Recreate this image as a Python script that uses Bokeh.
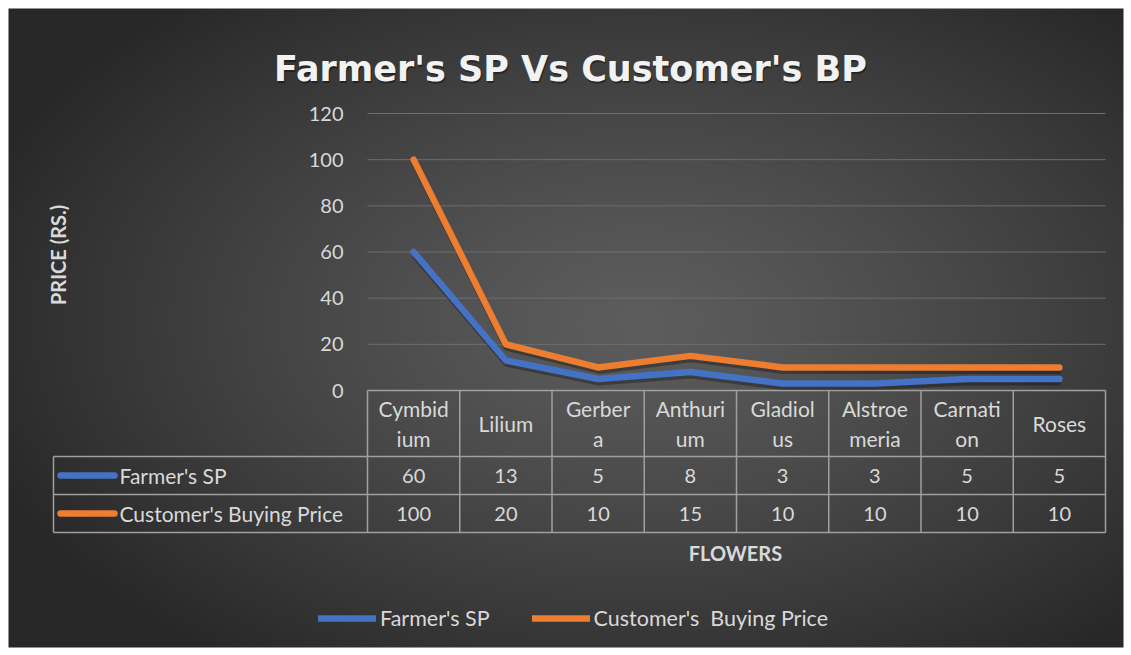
import numpy as np
from bokeh.plotting import figure
from bokeh.models import ColumnDataSource, Range1d, Legend, LegendItem
from bokeh.transform import dodge
from bokeh.core.properties import value
from bokeh.embed import file_html
from bokeh.resources import INLINE

# ---------------- data ----------------
flowers = ["Cymbidium", "Lilium", "Gerbera", "Anthurium", "Gladiolus",
           "Alstroemeria", "Carnation", "Roses"]
header_labels = ["Cymbid\nium", "Lilium", "Gerber\na", "Anthuri\num", "Gladiol\nus",
                 "Alstroe\nmeria", "Carnati\non", "Roses"]
farmer_sp = [60, 13, 5, 8, 3, 3, 5, 5]
customer_bp = [100, 20, 10, 15, 10, 10, 10, 10]
series_names = ["Farmer's SP", "Customer's  Buying Price"]
series_colors = ["#4472C4", "#ED7D31"]
y_ticks = [0, 20, 40, 60, 80, 100, 120]
title_text = "Farmer's SP Vs Customer's BP"
x_title = "FLOWERS"
y_title = "PRICE  (RS.)"

# ---------------- layout (page pixels) ----------------
W, H = 1131, 655
M = 8                      # white margin around chart area
PLOT_L, PLOT_R = 367, 1105
PLOT_T, PLOT_B = 113, 390
YMAX = 120
n = len(flowers)
cat_w = (PLOT_R - PLOT_L) / n
ppu = (PLOT_B - PLOT_T) / YMAX


def ux(px):
    return (px - PLOT_L) / cat_w


def vy(py):
    return (PLOT_B - py) / ppu


FONT = "Lato"
TXT = "#d9d9d9"
FS = "21px"
NFS = "20px"

p = figure(width=W, height=H,
           x_range=Range1d(ux(0), ux(W)),
           y_range=Range1d(vy(H), vy(0)),
           x_axis_type=None, y_axis_type=None, min_border=0,
           toolbar_location=None, output_backend="svg",
           outline_line_color=None,
           background_fill_color="white", border_fill_color="white")

# background radial gradient over the chart area
CW, CH = W - 2 * M, H - 2 * M
gh, gw = CH // 2, CW // 2
yy, xx = np.mgrid[0:gh, 0:gw]
pxx = M + (xx + 0.5) * CW / gw
pyy = M + CH - (yy + 0.5) * CH / gh
cx, cy = 640, 320
r = np.sqrt(((pxx - cx) / 700.0) ** 2 + ((pyy - cy) / 420.0) ** 2)
g = (93 - 53 * np.clip(r, 0, 1) ** 1.2).astype(np.uint8)
img = np.empty((gh, gw), dtype=np.uint32)
view = img.view(dtype=np.uint8).reshape((gh, gw, 4))
view[..., 0] = g
view[..., 1] = g
view[..., 2] = g
view[..., 3] = 255
p.image_rgba(image=[img], x=ux(M), y=vy(H - M),
             dw=ux(W - M) - ux(M), dh=vy(M) - vy(H - M))

# gridlines
grid_src = ColumnDataSource(dict(y=y_ticks[1:]))
p.segment(x0=0, x1=n, y0="y", y1="y", source=grid_src,
          line_color="#6e6e6e", line_width=1)

# y tick labels
p.text(x=ux(343), y=y_ticks, text=[str(t) for t in y_ticks],
       text_align="right", text_baseline="middle",
       text_font=value(FONT), text_font_size=NFS, text_color=TXT)

# data table grid
TBL = "#a0a0a0"
ROW_T, ROW1, ROW2, ROW_B = 390, 456, 494, 532
LEG_L = 53
vx = list(range(n + 1))
p.segment(x0=vx, x1=vx, y0=vy(ROW_T), y1=vy(ROW_B), line_color=TBL, line_width=1.5)
p.segment(x0=[ux(LEG_L)], x1=[ux(LEG_L)], y0=vy(ROW1), y1=vy(ROW_B),
          line_color=TBL, line_width=1.5)
p.segment(x0=[0], x1=[n], y0=vy(ROW_T), y1=vy(ROW_T), line_color=TBL, line_width=1.5)
hy = [vy(ROW1), vy(ROW2), vy(ROW_B)]
p.segment(x0=ux(LEG_L), x1=n, y0=hy, y1=hy, line_color=TBL, line_width=1.5)

xc = [i + 0.5 for i in range(n)]
p.text(x=xc, y=vy(423), text=header_labels, text_align="center",
       text_baseline="middle", text_line_height=1.19,
       text_font=value(FONT), text_font_size=FS, text_color=TXT)
row_y = [vy(475), vy(513)]
for vals, ry in zip([farmer_sp, customer_bp], row_y):
    p.text(x=xc, y=ry, text=[str(v) for v in vals], text_align="center",
           text_baseline="middle", text_font=value(FONT), text_font_size=NFS,
           text_color=TXT)

# table legend keys
p.segment(x0=ux(60), x1=ux(114), y0=row_y, y1=row_y, line_color=series_colors,
          line_width=6.5, line_cap="round")
p.text(x=ux(119), y=row_y, text=series_names, text_align="left",
       text_baseline="middle", text_font=value(FONT), text_font_size=FS,
       text_color=TXT)

# lines
renderers = []
for vals, col in zip([farmer_sp, customer_bp], series_colors):
    src = ColumnDataSource(dict(x=xc, y=vals))
    p.line(x=dodge("x", 0.012, range=p.x_range), y=dodge("y", -1.3, range=p.y_range),
           source=src, line_color="black", line_alpha=0.3, line_width=7,
           line_join="round")
    r_ = p.line(x="x", y="y", source=src, line_color=col, line_width=6.5,
                line_join="round", line_cap="round")
    renderers.append(r_)

# title with shadow
TF = "DejaVu Sans"
p.text(x=ux(571), y=vy(70), text=[title_text], text_align="center",
       text_baseline="alphabetic", text_font=value(TF),
       text_font_style="bold", text_font_size="35px", text_color="black",
       text_alpha=0.4)
p.text(x=ux(570), y=vy(68), text=[title_text], text_align="center",
       text_baseline="alphabetic", text_font=value(TF),
       text_font_style="bold", text_font_size="35px", text_color="#f2f2f2")

# axis titles
p.text(x=ux(57), y=vy(252), text=[y_title], angle=np.pi / 2, text_align="center",
       text_baseline="middle", text_font=value(FONT), text_font_style="bold",
       text_font_size="20px", text_color=TXT)
p.text(x=ux(735), y=vy(552), text=[x_title], text_align="center",
       text_baseline="middle", text_font=value(FONT), text_font_style="bold",
       text_font_size="20px", text_color=TXT)

# bottom legend
legend = Legend(items=[LegendItem(label=nm, renderers=[rr])
                       for nm, rr in zip(series_names, renderers)],
                orientation="horizontal", location=(318, H - 621 - 10),
                padding=0, margin=0, spacing=42, glyph_width=58, glyph_height=20,
                label_standoff=4, label_height=20,
                label_text_font=FONT, label_text_font_size="21.5px",
                label_text_color=TXT, background_fill_alpha=0,
                border_line_alpha=0)
p.add_layout(legend, "center")

open("out.html", "w").write(file_html(p, INLINE))
